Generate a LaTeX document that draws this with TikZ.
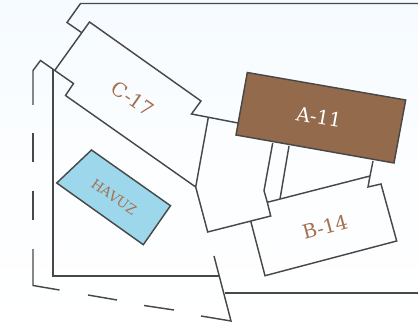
\documentclass[tikz,border=0pt]{standalone}
\usepackage{fontspec}
\setmainfont{DejaVu Serif}
\begin{document}
\begin{tikzpicture}[x=1pt,y=-1pt,
  wall/.style={draw=wallc,line width=1.45pt,line join=miter},
  lbl/.style={text=labelc,font=\fontsize{19.5}{22}\selectfont,inner sep=0pt}]
\definecolor{wallc}{HTML}{484848}
\definecolor{labelc}{HTML}{A5704F}
\definecolor{brownc}{HTML}{936A4C}
\definecolor{poolc}{HTML}{9CD7EC}
\definecolor{skyc}{HTML}{F6FBFF}
\useasboundingbox (0,0) rectangle (418,326);
\shade[top color=skyc,bottom color=white,middle color=skyc!35!white] (0,0) rectangle (418,326);
% outer walls
\draw[wall] (418,3.5) -- (80.5,3.5) -- (67,22.5) -- (81.5,32.5);
\draw[wall] (33,105) -- (33,70.5) -- (40.5,60.5) -- (73.5,83.5) -- (65.5,95.5) -- (195.7,187);
\draw[wall] (53,69.5) -- (53,276) -- (219,276);
\draw[wall] (225,293) -- (418,293);
% C-17
\draw[wall] (55,70) -- (89.5,22) -- (201,101) -- (191.5,114) -- (238,123);
\draw[wall] (208.3,117.5) -- (195.7,187) -- (207.7,232) -- (270.7,216) -- (267.3,202.3) -- (264,190.7) -- (272.7,143);
\draw[wall] (280,199) -- (289,146);
% B-14
\draw[wall] (267.3,202.3) -- (370,176) -- (368,187) -- (381,184) -- (396.7,241) -- (265,275.7) -- (250.7,221);
\draw[wall] (370,176) -- (373,161);
% dashed lot
\draw[wall] (33,133) -- (33,162);
\draw[wall] (33,191) -- (33,220);
\draw[wall] (33,249) -- (33,285.5) -- (59.5,290);
\draw[wall] (88,295) -- (117,300);
\draw[wall] (144,305.5) -- (174,310);
\draw[wall] (201,316) -- (231,321) -- (214,256);
% A-11
\draw[wall,fill=brownc] (247.3,72.5) -- (405.7,100) -- (394,163) -- (236,135) -- cycle;
% pool
\draw[wall,fill=poolc] (91.5,150) -- (170.5,205.7) -- (143.3,244.7) -- (56.7,183) -- cycle;
\node[lbl,rotate=-35] (c17) at (133,99) {C-17};
\node[lbl,rotate=-10,text=white] (a11) at (319,117) {A-11};
\node[lbl,rotate=15] (b14) at (325,227) {B-14};
\node[lbl,rotate=-35,font=\fontsize{13.5}{15}\selectfont] (havuz) at (114,197) {HAVUZ};
\end{tikzpicture}
\end{document}
